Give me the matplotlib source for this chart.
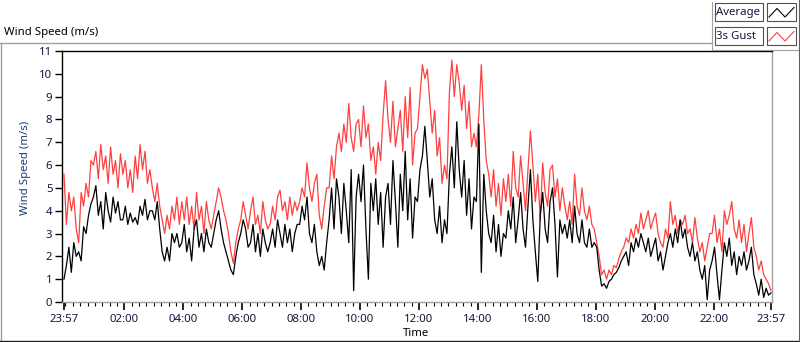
import datetime as dt
import matplotlib
matplotlib.use("Agg")
import matplotlib.pyplot as plt
import matplotlib.dates as mdates
from matplotlib.lines import Line2D
from matplotlib.patches import Rectangle

# 5 minute samples, 23:57 -> 23:57 next day (one row per hour)
gust = [
    5.6, 3.4, 4.8, 4.0, 4.6, 3.2, 2.6, 4.8, 4.2, 5.2, 4.6, 6.2,
    6.0, 6.6, 5.4, 6.9, 5.8, 6.4, 5.2, 6.8, 5.6, 6.2, 5.0, 6.5,
    5.6, 6.2, 5.0, 5.8, 4.8, 6.4, 5.4, 6.9, 5.8, 6.6, 5.2, 5.8,
    5.0, 4.4, 5.2, 4.2, 3.6, 3.0, 3.8, 3.2, 4.2, 3.6, 4.6, 3.4,
    4.4, 3.6, 4.6, 3.4, 4.2, 3.2, 4.8, 3.6, 4.2, 3.0, 4.4, 3.6,
    3.2, 3.8, 4.4, 5.0, 4.6, 4.0, 3.6, 3.0, 2.2, 1.7, 2.6, 3.2,
    3.6, 4.4, 3.8, 3.2, 4.0, 4.6, 3.4, 3.8, 3.0, 4.4, 3.6, 3.2,
    3.4, 4.2, 3.6, 4.6, 4.9, 4.0, 4.4, 3.6, 4.6, 3.8, 4.4, 4.0,
    4.4, 5.0, 4.6, 6.1, 5.0, 4.4, 5.2, 5.6, 3.8, 3.2, 4.2, 5.0,
    5.0, 6.4, 5.4, 6.8, 7.4, 6.6, 7.8, 7.0, 8.7, 7.2, 6.6, 7.8,
    8.0, 6.8, 8.6, 7.2, 7.8, 6.2, 6.8, 5.6, 7.0, 6.2, 8.2, 9.7,
    8.0, 7.0, 8.8, 6.8, 7.6, 8.4, 6.6, 9.0, 7.2, 9.4, 6.0, 7.4,
    7.6, 9.0, 10.4, 9.8, 10.2, 8.8, 7.4, 8.4, 6.4, 7.2, 5.2, 6.0,
    5.4, 9.2, 10.6, 9.0, 10.4, 9.6, 8.4, 9.5, 7.6, 8.8, 6.8, 7.4,
    6.8, 8.2, 10.4, 8.0, 6.2, 5.6, 4.6, 5.8, 4.2, 5.2, 3.8, 5.4,
    4.4, 5.6, 4.2, 6.6, 5.0, 4.6, 6.4, 5.2, 4.0, 5.8, 7.5, 6.0,
    4.4, 5.6, 3.6, 6.1, 4.8, 4.2, 5.8, 6.0, 4.6, 5.4, 4.0, 5.0,
    4.2, 3.6, 4.4, 3.4, 5.6, 4.2, 3.8, 5.0, 4.0, 3.6, 4.2, 3.4,
    3.2, 2.6, 2.0, 1.2, 1.4, 1.0, 1.4, 1.2, 1.6, 1.5, 1.9, 2.2,
    2.4, 2.8, 2.6, 3.2, 2.8, 3.4, 3.0, 3.9, 3.2, 3.6, 4.0, 3.2,
    3.6, 3.9, 3.0, 2.6, 2.4, 3.2, 2.8, 4.4, 3.4, 3.8, 3.0, 3.6,
    3.4, 3.8, 3.0, 3.2, 2.6, 3.7, 2.8, 2.2, 2.6, 1.8, 2.4, 3.0,
    3.0, 3.8, 2.6, 3.2, 2.2, 4.0, 3.4, 3.8, 4.4, 3.2, 2.8, 3.6,
    2.6, 3.4, 2.2, 3.0, 3.7, 2.4, 2.0, 1.4, 1.8, 1.2, 1.0, 0.8,
    0.5,
]
average = [
    1.0, 1.6, 2.4, 1.3, 2.6, 2.0, 2.2, 1.8, 3.3, 3.0, 3.8, 4.3,
    4.6, 5.1, 3.8, 4.4, 3.2, 4.8, 4.0, 3.5, 4.6, 3.9, 4.4, 3.6,
    3.6, 4.2, 3.4, 3.9, 3.5, 3.7, 3.4, 4.2, 3.8, 4.5, 3.6, 4.0,
    4.0, 3.6, 4.4, 3.2, 2.2, 1.8, 2.4, 1.8, 3.0, 2.6, 3.0, 2.4,
    2.6, 3.4, 2.2, 2.8, 1.8, 3.2, 3.6, 2.4, 3.0, 2.2, 3.2, 2.6,
    2.4, 3.0, 3.6, 4.0, 3.2, 2.6, 2.2, 1.8, 1.4, 1.2, 2.0, 2.6,
    3.0, 3.6, 3.2, 2.4, 2.6, 3.4, 2.2, 3.0, 2.0, 3.2, 2.6, 2.2,
    2.6, 3.2, 2.4, 3.6, 3.0, 2.4, 3.4, 2.6, 3.2, 2.2, 3.0, 3.4,
    3.4, 4.2, 3.6, 4.6, 3.0, 2.6, 3.4, 2.2, 1.6, 2.0, 1.4, 2.6,
    3.6, 5.0, 3.2, 5.4, 4.6, 3.0, 5.2, 4.0, 2.6, 5.8, 0.5, 4.6,
    5.6, 4.4, 6.0, 3.2, 1.0, 5.2, 4.0, 5.4, 3.4, 4.8, 2.4, 4.6,
    5.2, 3.4, 6.2, 4.4, 2.4, 5.6, 4.0, 6.6, 3.6, 5.4, 2.8, 4.6,
    4.4, 5.8, 6.4, 7.7, 6.2, 4.6, 5.4, 3.6, 3.0, 4.2, 2.6, 3.6,
    3.0, 5.6, 6.8, 5.0, 7.9, 5.8, 4.6, 6.2, 3.8, 5.4, 3.2, 4.6,
    4.4, 7.8, 1.3, 5.6, 4.0, 3.0, 2.6, 3.8, 2.2, 3.4, 2.0, 3.0,
    2.8, 4.0, 3.2, 4.6, 2.6, 3.6, 4.8, 3.2, 2.4, 4.2, 5.8, 3.6,
    2.2, 0.9, 3.8, 4.8, 3.2, 2.6, 4.4, 5.0, 3.4, 1.1, 3.6, 3.0,
    3.4, 2.8, 3.6, 2.6, 4.2, 3.0, 2.6, 3.6, 2.6, 2.4, 3.2, 2.4,
    2.6, 2.4, 1.4, 0.7, 0.8, 0.6, 0.9, 1.0, 1.2, 1.3, 1.5, 1.8,
    2.0, 2.2, 1.6, 2.6, 2.2, 2.8, 2.4, 3.0, 2.6, 2.2, 2.8, 2.0,
    2.4, 2.8, 1.8, 2.2, 1.4, 2.0, 2.6, 3.0, 2.4, 3.2, 2.6, 3.6,
    2.8, 3.2, 2.4, 2.0, 2.6, 1.8, 2.2, 1.4, 1.0, 1.6, 0.1, 1.4,
    1.8, 2.4, 1.2, 0.1, 1.4, 2.6, 2.0, 2.8, 1.6, 2.2, 1.2, 2.0,
    1.6, 2.2, 1.4, 1.8, 2.4, 1.2, 0.8, 0.3, 1.0, 0.2, 0.6, 0.3,
    0.4,
]
series_names = ["Average", "3s Gust"]
series_colors = ["black", "#ff4040"]

start = dt.datetime(2014, 6, 1, 23, 57)
end = start + dt.timedelta(hours=24)
times = [start + dt.timedelta(minutes=5 * i) for i in range(len(gust))]

W, H = 800, 342
FONT = "Noto Sans"
FS = 8.2
TXT = "#14143c"

def fx(px):
    return px / W

def fy(py):
    return 1 - py / H

fig = plt.figure(figsize=(W / 100, H / 100), dpi=100)
fig.patch.set_facecolor("white")

ax = fig.add_axes([fx(62), fy(302), fx(772) - fx(62), fy(51) - fy(302)])
ax.plot(times, gust, color=series_colors[1], lw=0.9)
ax.plot(times, average, color=series_colors[0], lw=0.9)

ax.set_ylim(0, 11)
ax.set_yticks(range(0, 12))
ax.set_xlim(start - dt.timedelta(minutes=4), end + dt.timedelta(minutes=2))
major = [start] + [dt.datetime(2014, 6, 2, h) for h in range(2, 24, 2)] + [end]
ax.set_xticks(major)
ax.xaxis.set_major_formatter(mdates.DateFormatter("%H:%M"))
ax.xaxis.set_minor_locator(mdates.MinuteLocator(byminute=[0, 15, 30, 45]))

ax.tick_params(axis="both", which="major", direction="out", length=5, width=1,
               color="black", labelsize=FS, labelcolor=TXT, pad=2)
ax.tick_params(axis="x", which="major", length=6, width=1.2, pad=3)
ax.tick_params(axis="x", which="minor", direction="out", length=3, width=0.8, color="black")
for lab in ax.get_xticklabels() + ax.get_yticklabels():
    lab.set_fontfamily(FONT)

ax.spines["left"].set_color("black")
ax.spines["top"].set_color("black")
ax.spines["bottom"].set_color("#a0a0a0")
ax.spines["right"].set_color("#a0a0a0")
for s in ax.spines.values():
    s.set_linewidth(1)

ax.set_ylabel("Wind Speed (m/s)", fontsize=FS, color="#1c3c78", family=FONT)
ax.yaxis.set_label_coords((31 - 62) / 710, (302 - 168) / 251)
fig.text(fx(403), fy(334), "Time", fontsize=FS, color="black", family=FONT,
         ha="left", va="center")

# title and outer frame
fig.text(fx(4), fy(32), "Wind Speed (m/s)", fontsize=FS, color="black", family=FONT,
         ha="left", va="center")
fig.add_artist(Line2D([fx(0), fx(712)], [fy(42.5), fy(42.5)], color="#a0a0a0", lw=1))
fig.add_artist(Line2D([fx(0.5), fx(0.5)], [fy(42.5), fy(341)], color="#a0a0a0", lw=1))
fig.add_artist(Line2D([fx(0), fx(800)], [fy(340.5), fy(340.5)], color="#202020", lw=1))
fig.add_artist(Line2D([fx(798.5), fx(798.5)], [fy(0), fy(341)], color="#606060", lw=0.8))

# legend panel
fig.add_artist(Line2D([fx(712), fx(712)], [fy(2), fy(49.5)], color="#a0a0a0", lw=0.8))
fig.add_artist(Line2D([fx(712), fx(798)], [fy(49.5), fy(49.5)], color="#a0a0a0", lw=0.8))
for i, name in enumerate(series_names):
    top = 3.5 + 24 * i
    fig.add_artist(Rectangle((fx(715), fy(top + 17.5)), fx(48), fy(top) - fy(top + 17.5),
                             facecolor="white", edgecolor="#505050", lw=0.8))
    fig.text(fx(716.5), fy(top + 9), name, fontsize=FS, color=TXT, family=FONT,
             ha="left", va="center")
    fig.add_artist(Rectangle((fx(767), fy(top + 17.5)), fx(29), fy(top) - fy(top + 17.5),
                             facecolor="white", edgecolor="#505050", lw=0.8))
    zx = [769, 777, 785, 794]
    zy = [top + 13.5, top + 5, top + 13.5, top + 4]
    fig.add_artist(Line2D([fx(v) for v in zx], [fy(v) for v in zy],
                          color=series_colors[i], lw=0.8))

fig.savefig("out.png", dpi=100)
